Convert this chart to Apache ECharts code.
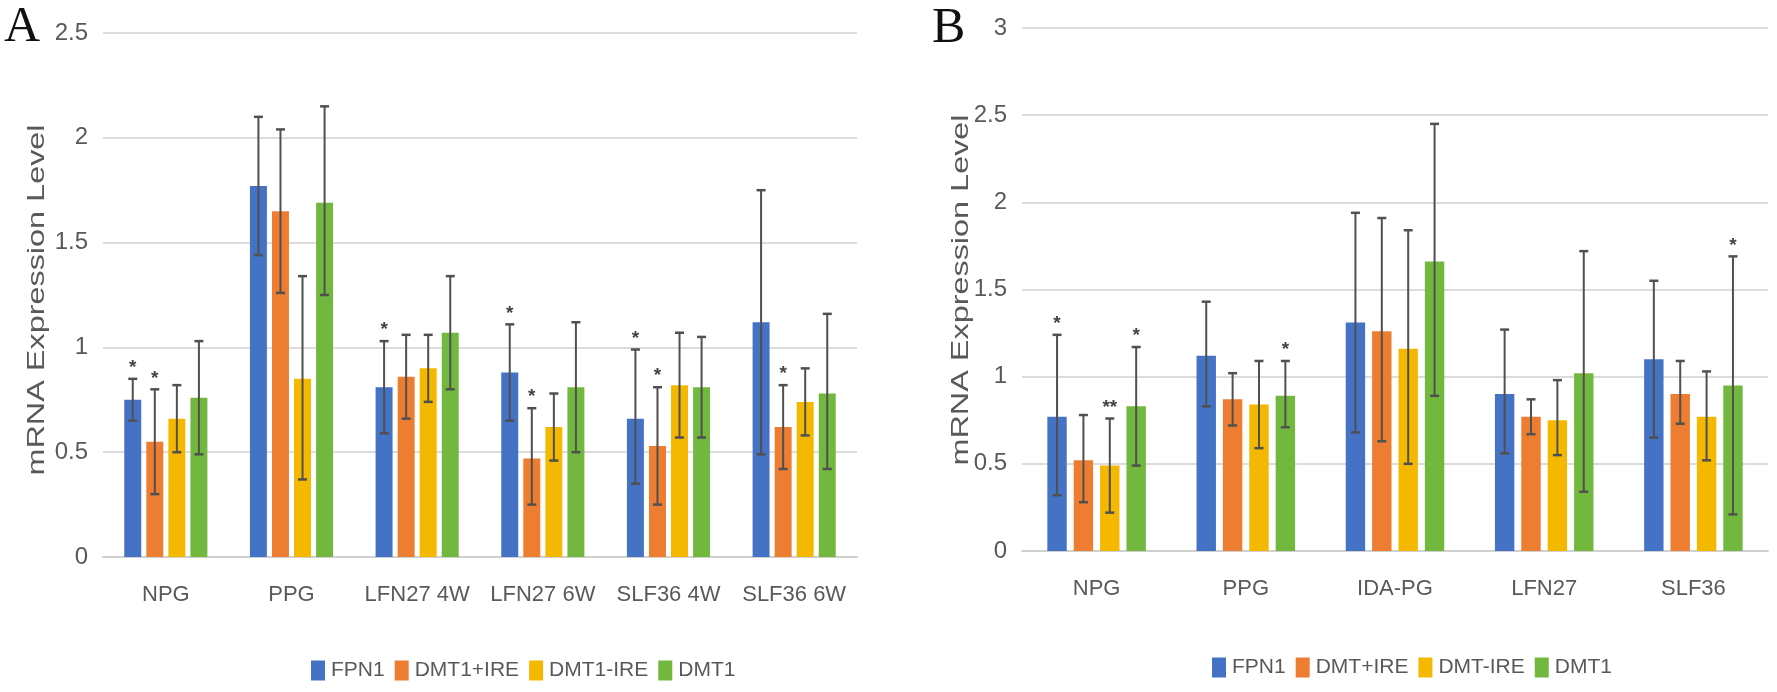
<!DOCTYPE html>
<html>
<head>
<meta charset="UTF-8">
<title>mRNA Expression</title>
<style>
html,body{margin:0;padding:0;background:#fff;}
#charts{width:1777px;height:692px;}
</style>
<script src="https://cdn.jsdelivr.net/npm/echarts@6/dist/echarts.min.js"></script>
</head>
<body>
<div id="charts"></div>
<script>
// ---- panel A data ----
var categoriesA = ['NPG', 'PPG', 'LFN27 4W', 'LFN27 6W', 'SLF36 4W', 'SLF36 6W'];
var namesA = ['FPN1', 'DMT1+IRE', 'DMT1-IRE', 'DMT1'];
var meanA_FPN1   = [0.75, 1.77, 0.81, 0.88, 0.66, 1.12];
var hiA_FPN1     = [0.85, 2.10, 1.03, 1.11, 0.99, 1.75];
var loA_FPN1     = [0.65, 1.44, 0.59, 0.65, 0.35, 0.49];
var meanA_DIREp  = [0.55, 1.65, 0.86, 0.47, 0.53, 0.62];
var hiA_DIREp    = [0.80, 2.04, 1.06, 0.71, 0.81, 0.82];
var loA_DIREp    = [0.30, 1.26, 0.66, 0.25, 0.25, 0.42];
var meanA_DIREm  = [0.66, 0.85, 0.90, 0.62, 0.82, 0.74];
var hiA_DIREm    = [0.82, 1.34, 1.06, 0.78, 1.07, 0.90];
var loA_DIREm    = [0.50, 0.37, 0.74, 0.46, 0.57, 0.58];
var meanA_DMT1   = [0.76, 1.69, 1.07, 0.81, 0.81, 0.78];
var hiA_DMT1     = [1.03, 2.15, 1.34, 1.12, 1.05, 1.16];
var loA_DMT1     = [0.49, 1.25, 0.80, 0.50, 0.57, 0.42];
var starsA_FPN1  = ['*', '', '*', '*', '*', ''];
var starsA_DIREp = ['*', '', '', '*', '*', '*'];
var starsA_none  = ['', '', '', '', '', ''];
var ticksA = [0, 2.5, 0.5];

// ---- panel B data ----
var categoriesB = ['NPG', 'PPG', 'IDA-PG', 'LFN27', 'SLF36'];
var namesB = ['FPN1', 'DMT+IRE', 'DMT-IRE', 'DMT1'];
var meanB_FPN1   = [0.77, 1.12, 1.31, 0.90, 1.10];
var hiB_FPN1     = [1.24, 1.43, 1.94, 1.27, 1.55];
var loB_FPN1     = [0.32, 0.83, 0.68, 0.56, 0.65];
var meanB_DIREp  = [0.52, 0.87, 1.26, 0.77, 0.90];
var hiB_DIREp    = [0.78, 1.02, 1.91, 0.87, 1.09];
var loB_DIREp    = [0.28, 0.72, 0.63, 0.67, 0.73];
var meanB_DIREm  = [0.49, 0.84, 1.16, 0.75, 0.77];
var hiB_DIREm    = [0.76, 1.09, 1.84, 0.98, 1.03];
var loB_DIREm    = [0.22, 0.59, 0.50, 0.55, 0.52];
var meanB_DMT1   = [0.83, 0.89, 1.66, 1.02, 0.95];
var hiB_DMT1     = [1.17, 1.09, 2.45, 1.72, 1.69];
var loB_DMT1     = [0.49, 0.71, 0.89, 0.34, 0.21];
var starsB_FPN1  = ['*', '', '', '', ''];
var starsB_DIREp = ['', '', '', '', ''];
var starsB_DIREm = ['**', '', '', '', ''];
var starsB_DMT1  = ['*', '*', '', '', '*'];
var ticksB = [0, 3, 0.5];

var colors = ['#4472C4', '#ED7D31', '#F5B800', '#72B83E'];
var sans = "'Liberation Sans', Arial, sans-serif";
var txt = '#595959';

var mycharts = echarts.init(document.getElementById('charts'));

// bar layout per panel: width fraction of the band, gap as fraction of bar width
var layoutA = {frac: 0.135, gap: 0.30};
var layoutB = {frac: 0.13, gap: 0.36};

function errSeries(name, axis, k, lay, lo, hi, stars) {
  var data = [];
  for (var i = 0; i < lo.length; i++) data.push([i, lo[i], hi[i]]);
  return {
    type: 'custom', name: name, xAxisIndex: axis, yAxisIndex: axis,
    data: data, encode: {x: 0, y: [1, 2]}, clip: false, z: 5, silent: true,
    renderItem: function (params, api) {
      var idx = api.value(0);
      var band = api.size([1, 0])[0];
      var bw = band * lay.frac, step = bw * (1 + lay.gap);
      var top = api.coord([idx, api.value(2)]);
      var bot = api.coord([idx, api.value(1)]);
      var x = top[0] + (k - 1.5) * step;
      var c = '#505050';
      var kids = [
        {type: 'line', shape: {x1: x, y1: top[1], x2: x, y2: bot[1]}, style: {stroke: c, lineWidth: 2}},
        {type: 'line', shape: {x1: x - 4.5, y1: top[1], x2: x + 4.5, y2: top[1]}, style: {stroke: c, lineWidth: 2.5}},
        {type: 'line', shape: {x1: x - 4.5, y1: bot[1], x2: x + 4.5, y2: bot[1]}, style: {stroke: c, lineWidth: 2.5}}
      ];
      var s = stars[params.dataIndex];
      if (s) {
        kids.push({type: 'text', style: {text: s, x: x, y: top[1] - 11, align: 'center', verticalAlign: 'middle',
          fontSize: 19, fontWeight: 'bold', fontFamily: sans, fill: '#444'}});
      }
      return {type: 'group', children: kids};
    }
  };
}

function barSeries(name, axis, k, lay, mean) {
  return {
    type: 'bar', name: name, xAxisIndex: axis, yAxisIndex: axis, data: mean,
    barWidth: (lay.frac * 100) + '%', barGap: (lay.gap * 100) + '%',
    itemStyle: {color: colors[k]}
  };
}

var series = [
  barSeries(namesA[0], 0, 0, layoutA, meanA_FPN1),
  barSeries(namesA[1], 0, 1, layoutA, meanA_DIREp),
  barSeries(namesA[2], 0, 2, layoutA, meanA_DIREm),
  barSeries(namesA[3], 0, 3, layoutA, meanA_DMT1),
  errSeries('errA0', 0, 0, layoutA, loA_FPN1, hiA_FPN1, starsA_FPN1),
  errSeries('errA1', 0, 1, layoutA, loA_DIREp, hiA_DIREp, starsA_DIREp),
  errSeries('errA2', 0, 2, layoutA, loA_DIREm, hiA_DIREm, starsA_none),
  errSeries('errA3', 0, 3, layoutA, loA_DMT1, hiA_DMT1, starsA_none),
  barSeries(namesB[0], 1, 0, layoutB, meanB_FPN1),
  barSeries(namesB[1], 1, 1, layoutB, meanB_DIREp),
  barSeries(namesB[2], 1, 2, layoutB, meanB_DIREm),
  barSeries(namesB[3], 1, 3, layoutB, meanB_DMT1),
  errSeries('errB0', 1, 0, layoutB, loB_FPN1, hiB_FPN1, starsB_FPN1),
  errSeries('errB1', 1, 1, layoutB, loB_DIREp, hiB_DIREp, starsB_DIREp),
  errSeries('errB2', 1, 2, layoutB, loB_DIREm, hiB_DIREm, starsB_DIREm),
  errSeries('errB3', 1, 3, layoutB, loB_DMT1, hiB_DMT1, starsB_DMT1)
];

function xAx(idx, cats) {
  return {
    type: 'category', gridIndex: idx, data: cats,
    axisTick: {show: false},
    axisLine: {lineStyle: {color: '#d0d0d0', width: 2}},
    axisLabel: {color: txt, fontSize: 22, fontFamily: sans, margin: 27, interval: 0}
  };
}
function yAx(idx, t) {
  return {
    type: 'value', gridIndex: idx, min: t[0], max: t[1], interval: t[2],
    axisLine: {show: false}, axisTick: {show: false},
    axisLabel: {color: txt, fontSize: 24, fontFamily: sans, margin: 15},
    splitLine: {lineStyle: {color: '#dcdcdc', width: 2}}
  };
}

function legendOf(names, left, top) {
  return {
    data: names, left: left, top: top, orient: 'horizontal',
    icon: 'rect', itemWidth: 14, itemHeight: 20, itemGap: 10,
    textStyle: {color: txt, fontSize: 21, fontFamily: sans, padding: [0, 0, 0, 1]},
    selectedMode: false
  };
}

function vTitle(x, y) {
  return {
    type: 'text', x: x, y: y, rotation: Math.PI / 2, scaleX: 1.35, silent: true,
    style: {text: 'mRNA Expression Level', x: 0, y: 0, align: 'center', verticalAlign: 'middle',
      fontSize: 24, fontFamily: sans, fill: txt}
  };
}
function panelTag(t, x, y) {
  return {
    type: 'text', x: x, y: y, silent: true,
    style: {text: t, x: 0, y: 0, align: 'left', verticalAlign: 'middle',
      fontSize: 50, fontFamily: "'Liberation Serif', 'Times New Roman', serif", fill: '#111'}
  };
}

option = {
  backgroundColor: '#fff',
  animation: false,
  grid: [
    {left: 103, right: 920, top: 33, bottom: 135},
    {left: 1022, right: 9, top: 28, bottom: 141}
  ],
  xAxis: [xAx(0, categoriesA), xAx(1, categoriesB)],
  yAxis: [yAx(0, ticksA), yAx(1, ticksB)],
  legend: [legendOf(namesA, 306, 655), legendOf(namesB, 1207, 652)],
  graphic: [
    vTitle(37, 300), vTitle(961, 290),
    panelTag('A', 4, 28), panelTag('B', 932, 29)
  ],
  series: series
};
mycharts.setOption(option);
</script>
</body>
</html>
